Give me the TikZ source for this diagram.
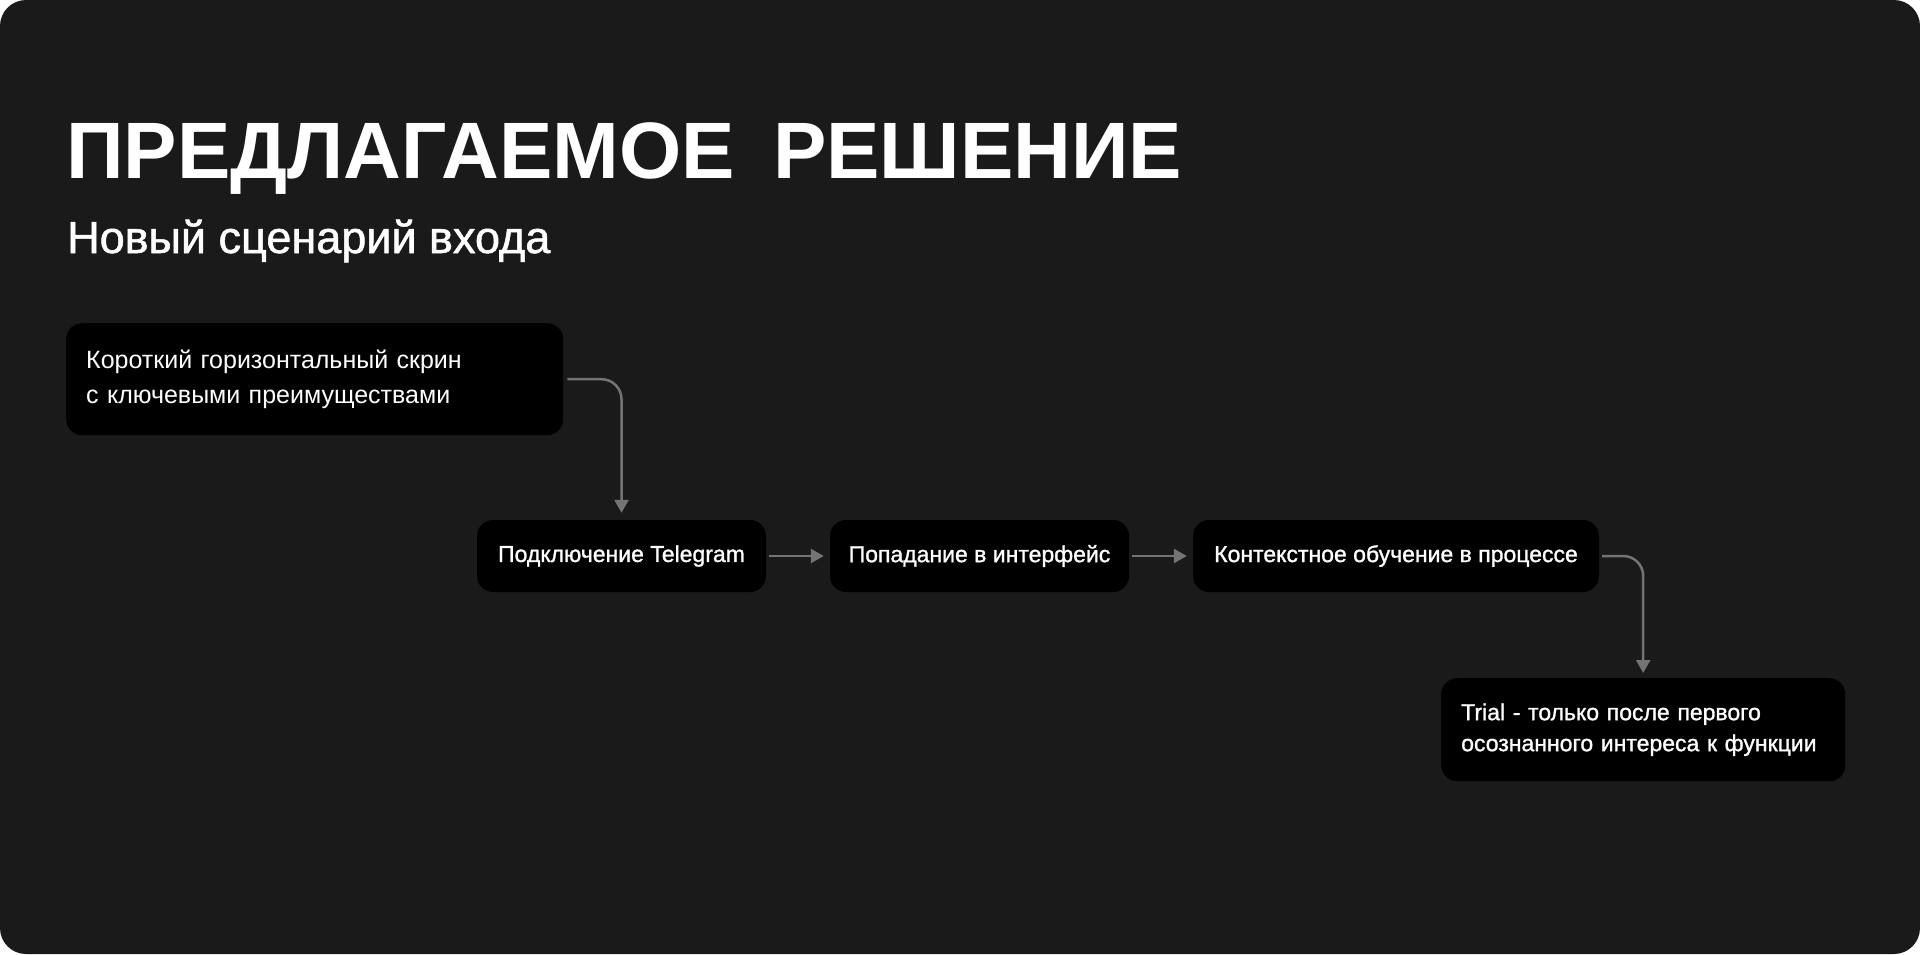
\documentclass[tikz,border=0pt]{standalone}
\usepackage{fontspec}
\setmainfont{Liberation Sans}
\newfontfamily\medfont{Liberation Sans}[FakeBold=1.2]
\usetikzlibrary{arrows.meta}
\definecolor{bg}{HTML}{1A1A1A}
\definecolor{conncol}{HTML}{747474}
\tikzset{
  box/.style={fill=black, rounded corners=16, inner sep=0pt, text=white},
  boxsmall/.style={box, minimum height=72, font=\medfont\fontsize{23}{31}\selectfont},
  conn/.style={draw=conncol, line width=2.5pt, rounded corners=20,
    -{Triangle[length=13pt,width=14pt]}},
}
\begin{document}
\begin{tikzpicture}[x=1pt,y=-1pt]
\useasboundingbox (0,0) rectangle (1920,954);
\fill[bg, rounded corners=26] (0,0) rectangle (1920,954);
\node[anchor=base west, inner sep=0pt, text=white,
  font=\fontsize{80}{96}\selectfont\bfseries] (title) at (66,178)
  {ПРЕДЛАГАЕМОЕ\hspace{0.2em} РЕШЕНИЕ};
\node[anchor=base west, inner sep=0pt, text=white,
  font=\medfont\fontsize{45}{52}\selectfont] (subtitle) at (67,253)
  {Новый сценарий входа};
\node[box, anchor=north west, minimum height=112, inner xsep=20pt, text width=457pt,
  align=left, font=\fontsize{25}{35}\selectfont] (b1) at (66,323)
  {Короткий горизонтальный скрин\\с ключевыми преимуществами};
\node[boxsmall, minimum width=289] (b2) at (621.5,556) {Подключение Telegram};
\node[boxsmall, minimum width=299] (b3) at (979.5,556) {Попадание в интерфейс};
\node[boxsmall, minimum width=406] (b4) at (1396,556) {Контекстное обучение в процессе};
\node[box, anchor=north west, minimum height=103, inner xsep=20pt, text width=364pt,
  align=left, font=\medfont\fontsize{23}{31}\selectfont] (b5) at (1441,678)
  {Trial - только после первого\\осознанного интереса к функции};
\draw[conn, shorten <=4pt, shorten >=7pt] (b1.east) -| (b2.north);
\draw[conn, shorten <=3pt, shorten >=6pt] (b2.east) -- (b3.west);
\draw[conn, shorten <=3pt, shorten >=6pt] (b3.east) -- (b4.west);
\draw[conn, shorten <=3pt, shorten >=5pt] (b4.east) -| (b5.north);
\end{tikzpicture}
\end{document}
